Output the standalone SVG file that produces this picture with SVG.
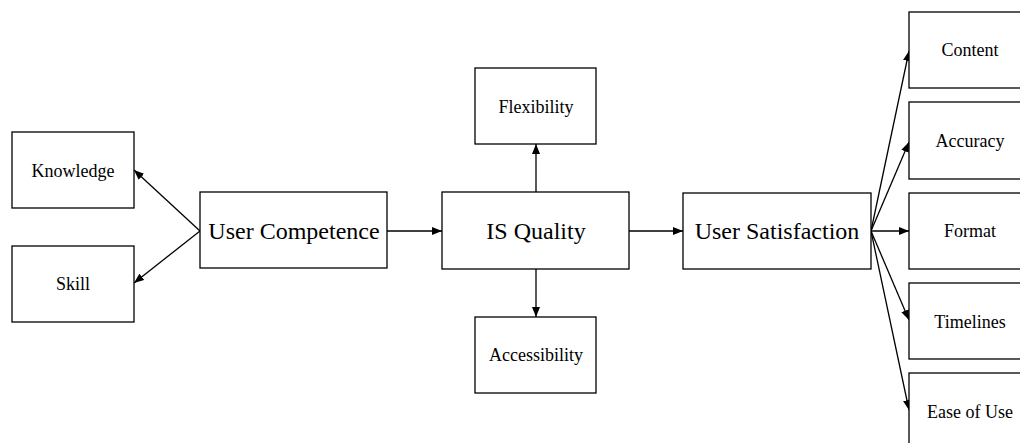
<svg xmlns="http://www.w3.org/2000/svg" width="1020" height="443" viewBox="0 0 1020 443">
<defs>
<marker id="arr" viewBox="0 0 10 8" refX="10" refY="4" markerWidth="10" markerHeight="8" markerUnits="userSpaceOnUse" orient="auto">
<path d="M0,0 L10,4 L0,8 Z" fill="#000"/>
</marker>
<style>
rect{fill:#fff;stroke:#000;stroke-width:1.3}
text{font-family:"Liberation Serif","Times New Roman",serif;fill:#000;text-anchor:middle}
.s{font-size:18px}
.b{font-size:24px}
#connectors line{stroke:#000;stroke-width:1.3;marker-end:url(#arr)}
</style>
</defs>
<rect x="0" y="0" width="1020" height="443" style="stroke:none"/>
<g id="connectors">
<line x1="200" y1="231" x2="134" y2="170"/>
<line x1="200" y1="231" x2="134" y2="283"/>
<line x1="387" y1="231" x2="442" y2="231"/>
<line x1="536" y1="192" x2="536" y2="144"/>
<line x1="536" y1="269" x2="536" y2="317"/>
<line x1="629" y1="231" x2="683" y2="231"/>
<line x1="871" y1="231" x2="909" y2="51"/>
<line x1="871" y1="231" x2="909" y2="142"/>
<line x1="871" y1="231" x2="909" y2="231"/>
<line x1="871" y1="231" x2="909" y2="320"/>
<line x1="871" y1="231" x2="909" y2="410"/>
</g>
<g id="knowledge"><rect x="12" y="132" width="122" height="76"/><text class="s" x="73" y="177">Knowledge</text></g>
<g id="skill"><rect x="12" y="246" width="122" height="76"/><text class="s" x="73" y="290">Skill</text></g>
<g id="user-competence"><rect x="200" y="192" width="187" height="76"/><text class="b" x="294" y="239">User Competence</text></g>
<g id="flexibility"><rect x="475" y="68" width="121" height="76"/><text class="s" x="536" y="113">Flexibility</text></g>
<g id="is-quality"><rect x="442" y="192" width="187" height="77"/><text class="b" x="536" y="239">IS Quality</text></g>
<g id="accessibility"><rect x="475" y="317" width="121" height="76"/><text class="s" x="536" y="361">Accessibility</text></g>
<g id="user-satisfaction"><rect x="683" y="193" width="188" height="76"/><text class="b" x="777" y="239">User Satisfaction</text></g>
<g id="content"><rect x="909" y="12" width="122" height="76"/><text class="s" x="970" y="56">Content</text></g>
<g id="accuracy"><rect x="909" y="102" width="122" height="77"/><text class="s" x="970" y="147">Accuracy</text></g>
<g id="format"><rect x="909" y="193" width="122" height="76"/><text class="s" x="970" y="237">Format</text></g>
<g id="timelines"><rect x="909" y="283" width="122" height="76"/><text class="s" x="970" y="328">Timelines</text></g>
<g id="ease-of-use"><rect x="909" y="373" width="122" height="76"/><text class="s" x="970" y="418">Ease of Use</text></g>
</svg>
